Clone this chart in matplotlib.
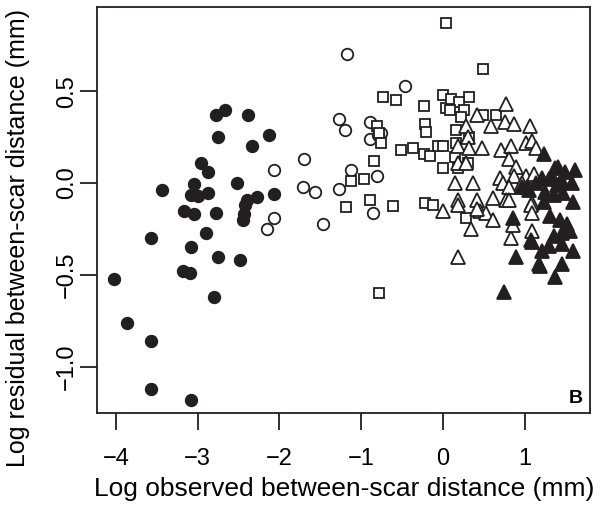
import matplotlib
matplotlib.use('Agg')
import matplotlib.pyplot as plt

plt.rcParams['font.family'] = ['Liberation Sans', 'DejaVu Sans']

# ── Dados ─────────────────────────────────────────────────────────────────────

fc_x = [-2.67, -2.78, -2.38, -2.75, -2.13, -2.34, -2.96, -2.88, -2.52, -3.44,
        -3.04, -3.08, -2.88, -2.40, -2.28, -2.07, -3.17, -3.04, -2.78, -2.42,
        -2.44, -2.45, -3.57, -2.90, -3.08, -2.75, -2.48, -3.18, -3.10, -4.02,
        -2.80, -3.87, -3.57, -3.57, -3.08, -3.00]
fc_y = [0.40, 0.37, 0.37, 0.25, 0.26, 0.20, 0.11, 0.06, 0.00, -0.04,
        -0.005, -0.065, -0.056, -0.09, -0.075, -0.06, -0.15, -0.17, -0.16, -0.12,
        -0.17, -0.20, -0.30, -0.27, -0.35, -0.40, -0.42, -0.48, -0.49, -0.52,
        -0.62, -0.76, -0.86, -1.12, -1.18, -0.07]

oc_x = [-2.07, -2.07, -2.15, -1.18, -0.46, -1.27, -1.20, -0.89, -0.76, -0.89,
        -0.80, -1.70, -1.13, -0.81, -1.71, -1.56, -1.27, -0.86, -1.47]
oc_y = [0.07, -0.19, -0.25, 0.70, 0.53, 0.35, 0.29, 0.33, 0.27, 0.24,
        0.26, 0.13, 0.07, 0.04, -0.02, -0.05, -0.03, -0.16, -0.22]

sq_x = [0.04, 0.49, -0.73, -0.58, -0.23, 0.00, 0.04, -0.81, -0.78, -0.76,
        -0.22, -0.21, -0.51, -0.37, -0.23, -0.16, -0.06, 0.00, 0.00, -0.84,
        -1.12, -0.97, -1.19, -0.89, -0.61, -0.22, -0.12, -0.78, 0.10, 0.32,
        0.20, 0.08, 0.26, 0.49, 0.65, 0.22, 0.16, 0.16, 0.32, 0.14,
        0.30, 0.18, 0.28]
sq_y = [0.87, 0.62, 0.47, 0.45, 0.42, 0.48, 0.41, 0.31, 0.27, 0.22,
        0.32, 0.28, 0.18, 0.19, 0.16, 0.15, 0.20, 0.20, 0.08, 0.12,
        0.01, 0.02, -0.13, -0.09, -0.125, -0.11, -0.12, -0.60, 0.46, 0.47,
        0.44, 0.40, 0.40, 0.37, 0.37, 0.36, 0.29, 0.22, 0.25, 0.14,
        0.11, 0.08, -0.19]

ot_x = [0.77, 0.41, 0.59, 0.76, 0.87, 1.06, 0.28, 0.30, 0.18, 0.32,
        0.47, 0.71, 0.83, 1.01, 1.09, 1.13, 0.81, 0.89, 0.18, 0.28,
        0.69, 0.87, 1.01, 1.11, 0.14, 0.37, 0.73, 0.81, 0.97, 0.18,
        0.00, 0.41, 0.45, 0.61, 0.77, 1.09, 0.53, 0.18, 0.41, 0.61,
        0.34, 0.83, 1.09, 1.07, 1.09, 0.85, 0.18, 0.81]
ot_y = [0.43, 0.37, 0.31, 0.33, 0.32, 0.31, 0.31, 0.25, 0.20, 0.19,
        0.19, 0.18, 0.20, 0.22, 0.23, 0.19, 0.13, 0.09, 0.11, 0.11,
        0.03, 0.04, 0.04, 0.05, 0.00, 0.00, 0.00, -0.02, 0.00, -0.09,
        -0.15, -0.09, -0.15, -0.08, -0.09, -0.11, -0.16, -0.12, -0.14, -0.20,
        -0.25, -0.30, -0.26, -0.12, -0.16, -0.23, -0.40, -0.09]

ft_x = [1.23, 1.37, 1.49, 1.61, 1.41, 1.21, 1.13, 1.03, 1.29, 1.39,
        1.45, 1.57, 1.33, 0.97, 1.05, 1.25, 1.35, 1.47, 1.59, 1.23,
        1.31, 1.43, 1.51, 1.55, 1.45, 1.35, 0.85, 1.09, 1.21, 0.89,
        1.17, 1.45, 1.37, 1.59, 0.75, 1.45, 1.29, 1.08, 1.19]
ft_y = [0.16, 0.08, 0.06, 0.07, 0.09, 0.03, 0.00, -0.02, 0.02, -0.01,
        0.01, 0.00, 0.04, -0.02, -0.04, -0.05, -0.065, -0.056, -0.10, -0.10,
        -0.18, -0.20, -0.22, -0.26, -0.27, -0.29, -0.19, -0.32, -0.37, -0.40,
        -0.44, -0.44, -0.51, -0.37, -0.59, -0.33, -0.34, -0.31, -0.45]

x_ticks = [-4, -3, -2, -1, 0, 1]
y_ticks = [-1.0, -0.5, 0.0, 0.5]

# ── Figura ────────────────────────────────────────────────────────────────────

fig = plt.figure(figsize=(6.03, 5.08), dpi=100)
ax = fig.add_axes([0.161, 0.187, 0.818, 0.799])

k = dict(linestyle='none', color='#231f20', mew=1.3)
ax.plot(fc_x, fc_y, 'o', ms=8.3, mfc='#231f20', **k)
ax.plot(oc_x, oc_y, 'o', ms=8.3, mfc='white', **k)
ax.plot(sq_x, sq_y, 's', ms=7.3, mfc='white', **k)
ax.plot(ot_x, ot_y, '^', ms=9.5, mfc='white', **k)
ax.plot(ft_x, ft_y, '^', ms=9.5, mfc='#231f20', **k)

ax.set_xlim(-4.23, 1.80)
ax.set_ylim(-1.25, 0.957)
ax.set_xticks(x_ticks)
ax.set_xticklabels(['\u2212%d' % -v if v < 0 else '%d' % v for v in x_ticks])
ax.set_yticks(y_ticks)
ax.set_yticklabels([('\u2212%.1f' % -v) if v < 0 else '%.1f' % v for v in y_ticks],
                   rotation=90, va='center')

for s in ax.spines.values():
    s.set_linewidth(1.3)
    s.set_color('#231f20')
ax.tick_params(direction='out', length=12, width=1.3, color='#231f20',
               labelsize=17)
ax.tick_params(axis='x', pad=13)
ax.tick_params(axis='y', pad=2)

ax.set_xlabel('Log observed between-scar distance (mm)', fontsize=19, labelpad=5)
ax.set_ylabel('Log residual between-scar distance (mm)', fontsize=18)
ax.yaxis.set_label_coords(-0.135, 0.43)
ax.text(0.985, 0.015, 'B', transform=ax.transAxes, ha='right', va='bottom',
        fontsize=14, fontweight='bold')

fig.savefig('out.png', dpi=100)
